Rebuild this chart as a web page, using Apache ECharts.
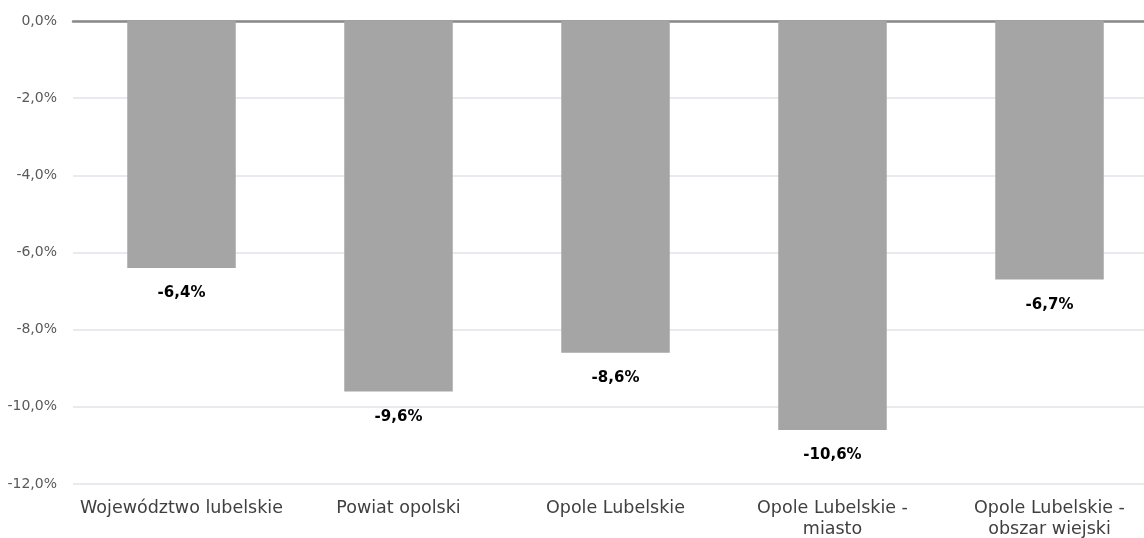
<!DOCTYPE html>
<html>
<head>
<meta charset="utf-8">
<script src="https://cdn.jsdelivr.net/npm/echarts@6/dist/echarts.min.js"></script>
<style>
  html, body { margin: 0; padding: 0; background: #fff; }
  #chart { width: 1144px; height: 538px; }
</style>
</head>
<body>
<div id="chart"></div>
<script>
const categories = [
  'Województwo lubelskie',
  'Powiat opolski',
  'Opole Lubelskie',
  'Opole Lubelskie -\nmiasto',
  'Opole Lubelskie -\nobszar wiejski'
];
const changes = [-6.4, -9.6, -8.6, -10.6, -6.7];

const FONT = 'DejaVu Sans';
const fmt = v => v.toFixed(1).replace('.', ',') + '%';

const chart = echarts.init(document.getElementById('chart'));
chart.setOption({
  animation: false,
  grid: { left: 73, right: -14, top: 21, bottom: 54, outerBoundsMode: 'none' },
  xAxis: [
    {
      type: 'category',
      data: categories,
      position: 'bottom',
      axisLine: { show: false },
      axisTick: { show: false },
      axisLabel: { color: '#404040', fontFamily: FONT, fontSize: 17.5, lineHeight: 21, margin: 14, interval: 0 }
    },
    {
      type: 'category',
      data: categories,
      position: 'top',
      axisLine: { show: true, onZero: false, lineStyle: { color: '#898989', width: 2.5 } },
      axisTick: { show: false },
      axisLabel: { show: false }
    }
  ],
  yAxis: {
    type: 'value',
    min: -12,
    max: 0,
    interval: 2,
    axisLine: { show: false },
    axisTick: { show: false },
    axisLabel: { color: '#595959', fontFamily: FONT, fontSize: 14, margin: 16, formatter: v => fmt(v) },
    splitLine: { lineStyle: { color: '#DFE3E9', width: 1.5 } }
  },
  series: [{
    type: 'bar',
    xAxisIndex: 0,
    data: changes,
    barWidth: '50%',
    itemStyle: { color: '#A5A5A5' },
    label: {
      show: true,
      position: 'bottom',
      distance: 18,
      color: '#000',
      fontFamily: FONT,
      fontWeight: 'bold',
      fontSize: 15,
      formatter: p => fmt(p.value)
    }
  }]
});
</script>
</body>
</html>
